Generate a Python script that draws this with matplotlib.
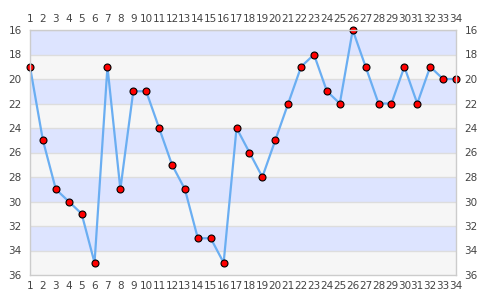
import numpy as np
import matplotlib
matplotlib.use('Agg')
import matplotlib.pyplot as plt

# 数据
x_vals = list(range(1, 35))
y_vals = [19, 25, 29, 30, 31, 35, 19, 29, 21, 21, 24, 27, 29, 33, 33, 35, 24, 26, 28, 25,
          22, 19, 18, 21, 22, 16, 19, 22, 22, 19, 22, 19, 20, 20]
y_ticks = list(range(16, 37, 2))

band_a = '#dde4ff'
band_b = '#f6f6f6'
txt = '#444444'

fig = plt.figure(figsize=(4.85, 3.0), dpi=100)
ax = fig.add_axes([30 / 485, 25 / 300, 426 / 485, 245 / 300])

# 背景条纹
for i, lo in enumerate(y_ticks[:-1]):
    ax.axhspan(lo, lo + 2, color=band_a if i % 2 == 0 else band_b, zorder=0, lw=0)
    ax.axhline(lo, color='#dddddd', lw=1, zorder=1)

ax.plot(x_vals, y_vals, color='#6aaef2', lw=1.6, zorder=3, clip_on=False)
ax.plot(x_vals, y_vals, ls='none', marker='o', ms=5, mfc='#ff0000', mec='black',
        mew=0.8, zorder=4, clip_on=False)

ax.set_xlim(1, 34)
ax.set_ylim(36, 16)
ax.set_xticks(x_vals)
ax.set_yticks(y_ticks)
ax.tick_params(axis='both', length=0, labelsize=7.5, colors=txt, pad=3)
ax.tick_params(axis='x', top=True, labeltop=True, pad=4)
ax.tick_params(axis='y', right=True, labelright=True, pad=6)
for s in ax.spines.values():
    s.set_color('#cccccc')
    s.set_linewidth(1)
    s.set_zorder(5)

plt.savefig('out.png', dpi=100)
